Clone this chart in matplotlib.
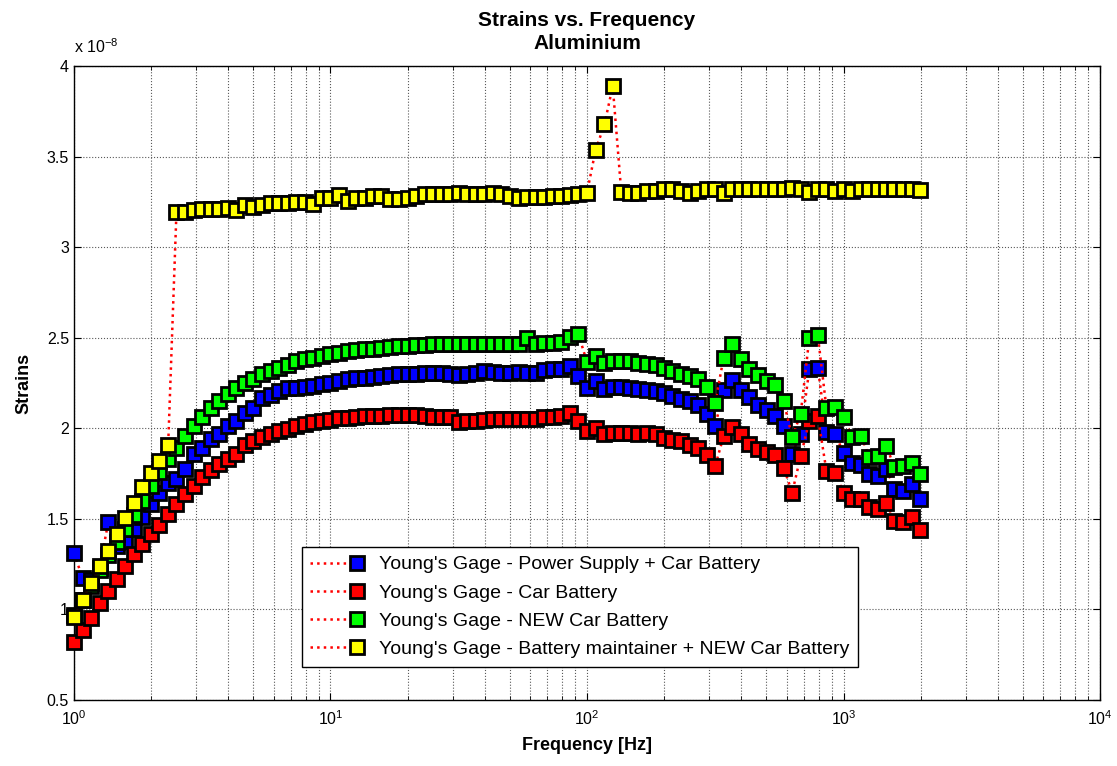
import numpy as np
import matplotlib
matplotlib.use('Agg')
import matplotlib.pyplot as plt
from matplotlib.ticker import LogLocator, NullFormatter, FixedLocator
from matplotlib.legend_handler import HandlerLine2D

plt.rcParams['font.family'] = ['Liberation Sans', 'DejaVu Sans']
plt.rcParams['mathtext.fontset'] = 'custom'
plt.rcParams['mathtext.rm'] = 'Liberation Sans'
plt.rcParams['mathtext.it'] = 'Liberation Sans'

# frequency sweep [Hz]
freq = [1.00, 1.08, 1.17, 1.26, 1.36, 1.47, 1.58, 1.71, 1.85, 2.00,
        2.15, 2.33, 2.51, 2.71, 2.93, 3.16, 3.41, 3.69, 3.98, 4.30,
        4.64, 5.01, 5.41, 5.84, 6.31, 6.81, 7.36, 7.94, 8.58, 9.26,
        10.0, 10.8, 11.7, 12.6, 13.6, 14.7, 15.8, 17.1, 18.5, 20.0,
        21.5, 23.3, 25.1, 27.1, 29.3, 31.6, 34.1, 36.9, 39.8, 43.0,
        46.4, 50.1, 54.1, 58.4, 63.1, 68.1, 73.6, 79.4, 85.8, 92.6,
        100, 108, 117, 126, 136, 147, 158, 171, 185, 200,
        215, 233, 251, 271, 293, 316, 341, 369, 398, 430,
        464, 501, 541, 584, 631, 681, 736, 794, 858, 926,
        1000, 1080, 1170, 1260, 1360, 1470, 1580, 1710, 1850, 1995]

# strains, in units of 1e-8
power_car = [1.31, 1.175, 1.16, 1.23, 1.48, 1.35, 1.38, 1.445, 1.51, 1.58,
             1.64, 1.70, 1.72, 1.775, 1.86, 1.89, 1.94, 1.97, 2.01, 2.04,
             2.085, 2.11, 2.165, 2.185, 2.205, 2.22, 2.22, 2.23, 2.235, 2.245,
             2.25, 2.26, 2.27, 2.275, 2.28, 2.285, 2.29, 2.295, 2.30, 2.30,
             2.30, 2.305, 2.305, 2.305, 2.30, 2.295, 2.30, 2.305, 2.315, 2.31,
             2.305, 2.305, 2.31, 2.305, 2.305, 2.32, 2.33, 2.33, 2.345, 2.29,
             2.225, 2.26, 2.215, 2.228, 2.228, 2.22, 2.215, 2.21, 2.205, 2.195,
             2.178, 2.16, 2.15, 2.13, 2.077, 2.013, 2.21, 2.265, 2.21, 2.17,
             2.13, 2.10, 2.07, 2.01, 1.86, 1.97, 2.325, 2.335, 1.98, 1.97,
             1.865, 1.81, 1.80, 1.745, 1.735, 1.775, 1.665, 1.655, 1.69, 1.61]

car = [0.82, 0.884, 0.95, 1.035, 1.10, 1.167, 1.24, 1.304, 1.362, 1.418,
       1.468, 1.528, 1.583, 1.638, 1.684, 1.73, 1.767, 1.804, 1.831, 1.86,
       1.905, 1.93, 1.954, 1.97, 1.985, 1.998, 2.013, 2.025, 2.036, 2.04,
       2.046, 2.055, 2.058, 2.062, 2.066, 2.068, 2.07, 2.071, 2.071, 2.071,
       2.071, 2.066, 2.064, 2.064, 2.064, 2.035, 2.04, 2.04, 2.045, 2.05,
       2.05, 2.05, 2.05, 2.05, 2.05, 2.06, 2.062, 2.07, 2.083, 2.04,
       1.985, 2.003, 1.97, 1.976, 1.976, 1.976, 1.97, 1.976, 1.97, 1.948,
       1.935, 1.93, 1.908, 1.893, 1.855, 1.792, 1.957, 2.007, 1.967, 1.912,
       1.884, 1.868, 1.853, 1.783, 1.645, 1.847, 2.04, 2.068, 1.764, 1.755,
       1.645, 1.608, 1.608, 1.563, 1.554, 1.585, 1.49, 1.48, 1.51, 1.437]

new_car = [0.97, 1.05, 1.13, 1.22, 1.30, 1.37, 1.445, 1.52, 1.60, 1.68,
           1.76, 1.83, 1.89, 1.96, 2.01, 2.06, 2.11, 2.15, 2.19, 2.22,
           2.25, 2.27, 2.30, 2.315, 2.335, 2.35, 2.37, 2.38, 2.39, 2.40,
           2.41, 2.415, 2.425, 2.43, 2.435, 2.44, 2.445, 2.45, 2.455, 2.455,
           2.46, 2.46, 2.465, 2.465, 2.465, 2.465, 2.465, 2.465, 2.465, 2.465,
           2.465, 2.465, 2.465, 2.50, 2.465, 2.47, 2.47, 2.475, 2.505, 2.52,
           2.365, 2.40, 2.36, 2.37, 2.37, 2.37, 2.36, 2.355, 2.35, 2.335,
           2.315, 2.30, 2.29, 2.27, 2.23, 2.14, 2.39, 2.465, 2.38, 2.33,
           2.295, 2.26, 2.24, 2.15, 1.95, 2.08, 2.50, 2.515, 2.11, 2.12,
           2.06, 1.95, 1.96, 1.84, 1.845, 1.90, 1.785, 1.79, 1.81, 1.745]

maintainer = [0.957, 1.053, 1.145, 1.237, 1.323, 1.415, 1.504, 1.587, 1.675, 1.752,
              1.822, 1.908, 3.196, 3.196, 3.205, 3.209, 3.209, 3.21, 3.218, 3.205,
              3.233, 3.22, 3.233, 3.242, 3.242, 3.245, 3.251, 3.248, 3.237, 3.27,
              3.27, 3.288, 3.257, 3.27, 3.27, 3.283, 3.283, 3.264, 3.264, 3.27,
              3.283, 3.294, 3.294, 3.294, 3.294, 3.301, 3.294, 3.294, 3.294, 3.301,
              3.294, 3.283, 3.27, 3.279, 3.275, 3.275, 3.283, 3.283, 3.288, 3.295,
              3.30, 3.536, 3.678, 3.89, 3.306, 3.301, 3.301, 3.31, 3.31, 3.319,
              3.319, 3.31, 3.301, 3.31, 3.319, 3.319, 3.301, 3.319, 3.319, 3.319,
              3.319, 3.319, 3.319, 3.319, 3.328, 3.319, 3.306, 3.319, 3.319, 3.31,
              3.319, 3.31, 3.319, 3.319, 3.319, 3.319, 3.319, 3.319, 3.319, 3.316]

labels = ["Young's Gage - Power Supply + Car Battery",
          "Young's Gage - Car Battery",
          "Young's Gage - NEW Car Battery",
          "Young's Gage - Battery maintainer + NEW Car Battery"]
colors = ['#0000ff', '#ff0000', '#00ff00', '#ffff00']
series = [power_car, car, new_car, maintainer]


# legend entry like matlab: dotted line, marker at its right end
class EndMarker(HandlerLine2D):
    def create_artists(self, legend, orig_handle, xdescent, ydescent,
                       width, height, fontsize, trans):
        arts = super().create_artists(legend, orig_handle, xdescent, ydescent,
                                      width, height, fontsize, trans)
        ln = arts[0]
        xd = ln.get_xdata()
        ln.set_markevery([len(xd) - 1])
        return arts


fig = plt.figure(figsize=(11.17, 7.66), dpi=100)
ax = fig.add_axes([0.0662, 0.0862, 0.9186, 0.8276])

for vals, c, lab in zip(series, colors, labels):
    ax.plot(freq, vals, ':', color='red', lw=1.8, marker='s', markersize=9.8,
            markerfacecolor=c, markeredgecolor='black', markeredgewidth=2.0,
            label=lab, clip_on=False, zorder=3)

ax.set_xscale('log')
ax.set_xlim(1, 1e4)
ax.set_ylim(0.5, 4)
ax.yaxis.set_major_locator(FixedLocator([0.5, 1, 1.5, 2, 2.5, 3, 3.5, 4]))
ax.set_yticklabels(['0.5', '1', '1.5', '2', '2.5', '3', '3.5', '4'])
ax.xaxis.set_minor_locator(LogLocator(base=10, subs=np.arange(2, 10), numticks=20))
ax.xaxis.set_minor_formatter(NullFormatter())

ax.grid(True, which='major', axis='both', linestyle=':', color='0.35', lw=0.8)
ax.grid(True, which='minor', axis='x', linestyle=':', color='0.35', lw=0.8)
ax.tick_params(which='both', direction='in', top=True, right=True, labelsize=11.5)
ax.tick_params(which='major', length=5)
ax.tick_params(which='minor', length=3)
ax.tick_params(axis='x', which='major', pad=7)
for s in ax.spines.values():
    s.set_linewidth(1.0)

ax.set_xlabel('Frequency [Hz]', fontsize=13, fontweight='bold', labelpad=6)
ax.set_ylabel('Strains', fontsize=13, fontweight='bold', labelpad=10)
ax.set_title('Strains vs. Frequency\nAluminium', fontsize=15, fontweight='bold',
             linespacing=1.3, pad=12)
ax.text(0.0, 1.016, r'x 10$^{-8}$', transform=ax.transAxes, fontsize=11.5,
        ha='left', va='bottom')

leg = ax.legend(loc='lower left', bbox_to_anchor=(0.222, 0.052), fontsize=14,
                frameon=True, fancybox=False, edgecolor='black', framealpha=1,
                handlelength=2.4, borderpad=0.45, labelspacing=0.55,
                handletextpad=1.1, borderaxespad=0,
                handler_map={matplotlib.lines.Line2D: EndMarker()})
leg.get_frame().set_linewidth(1.0)

fig.savefig('out.png', dpi=100)
